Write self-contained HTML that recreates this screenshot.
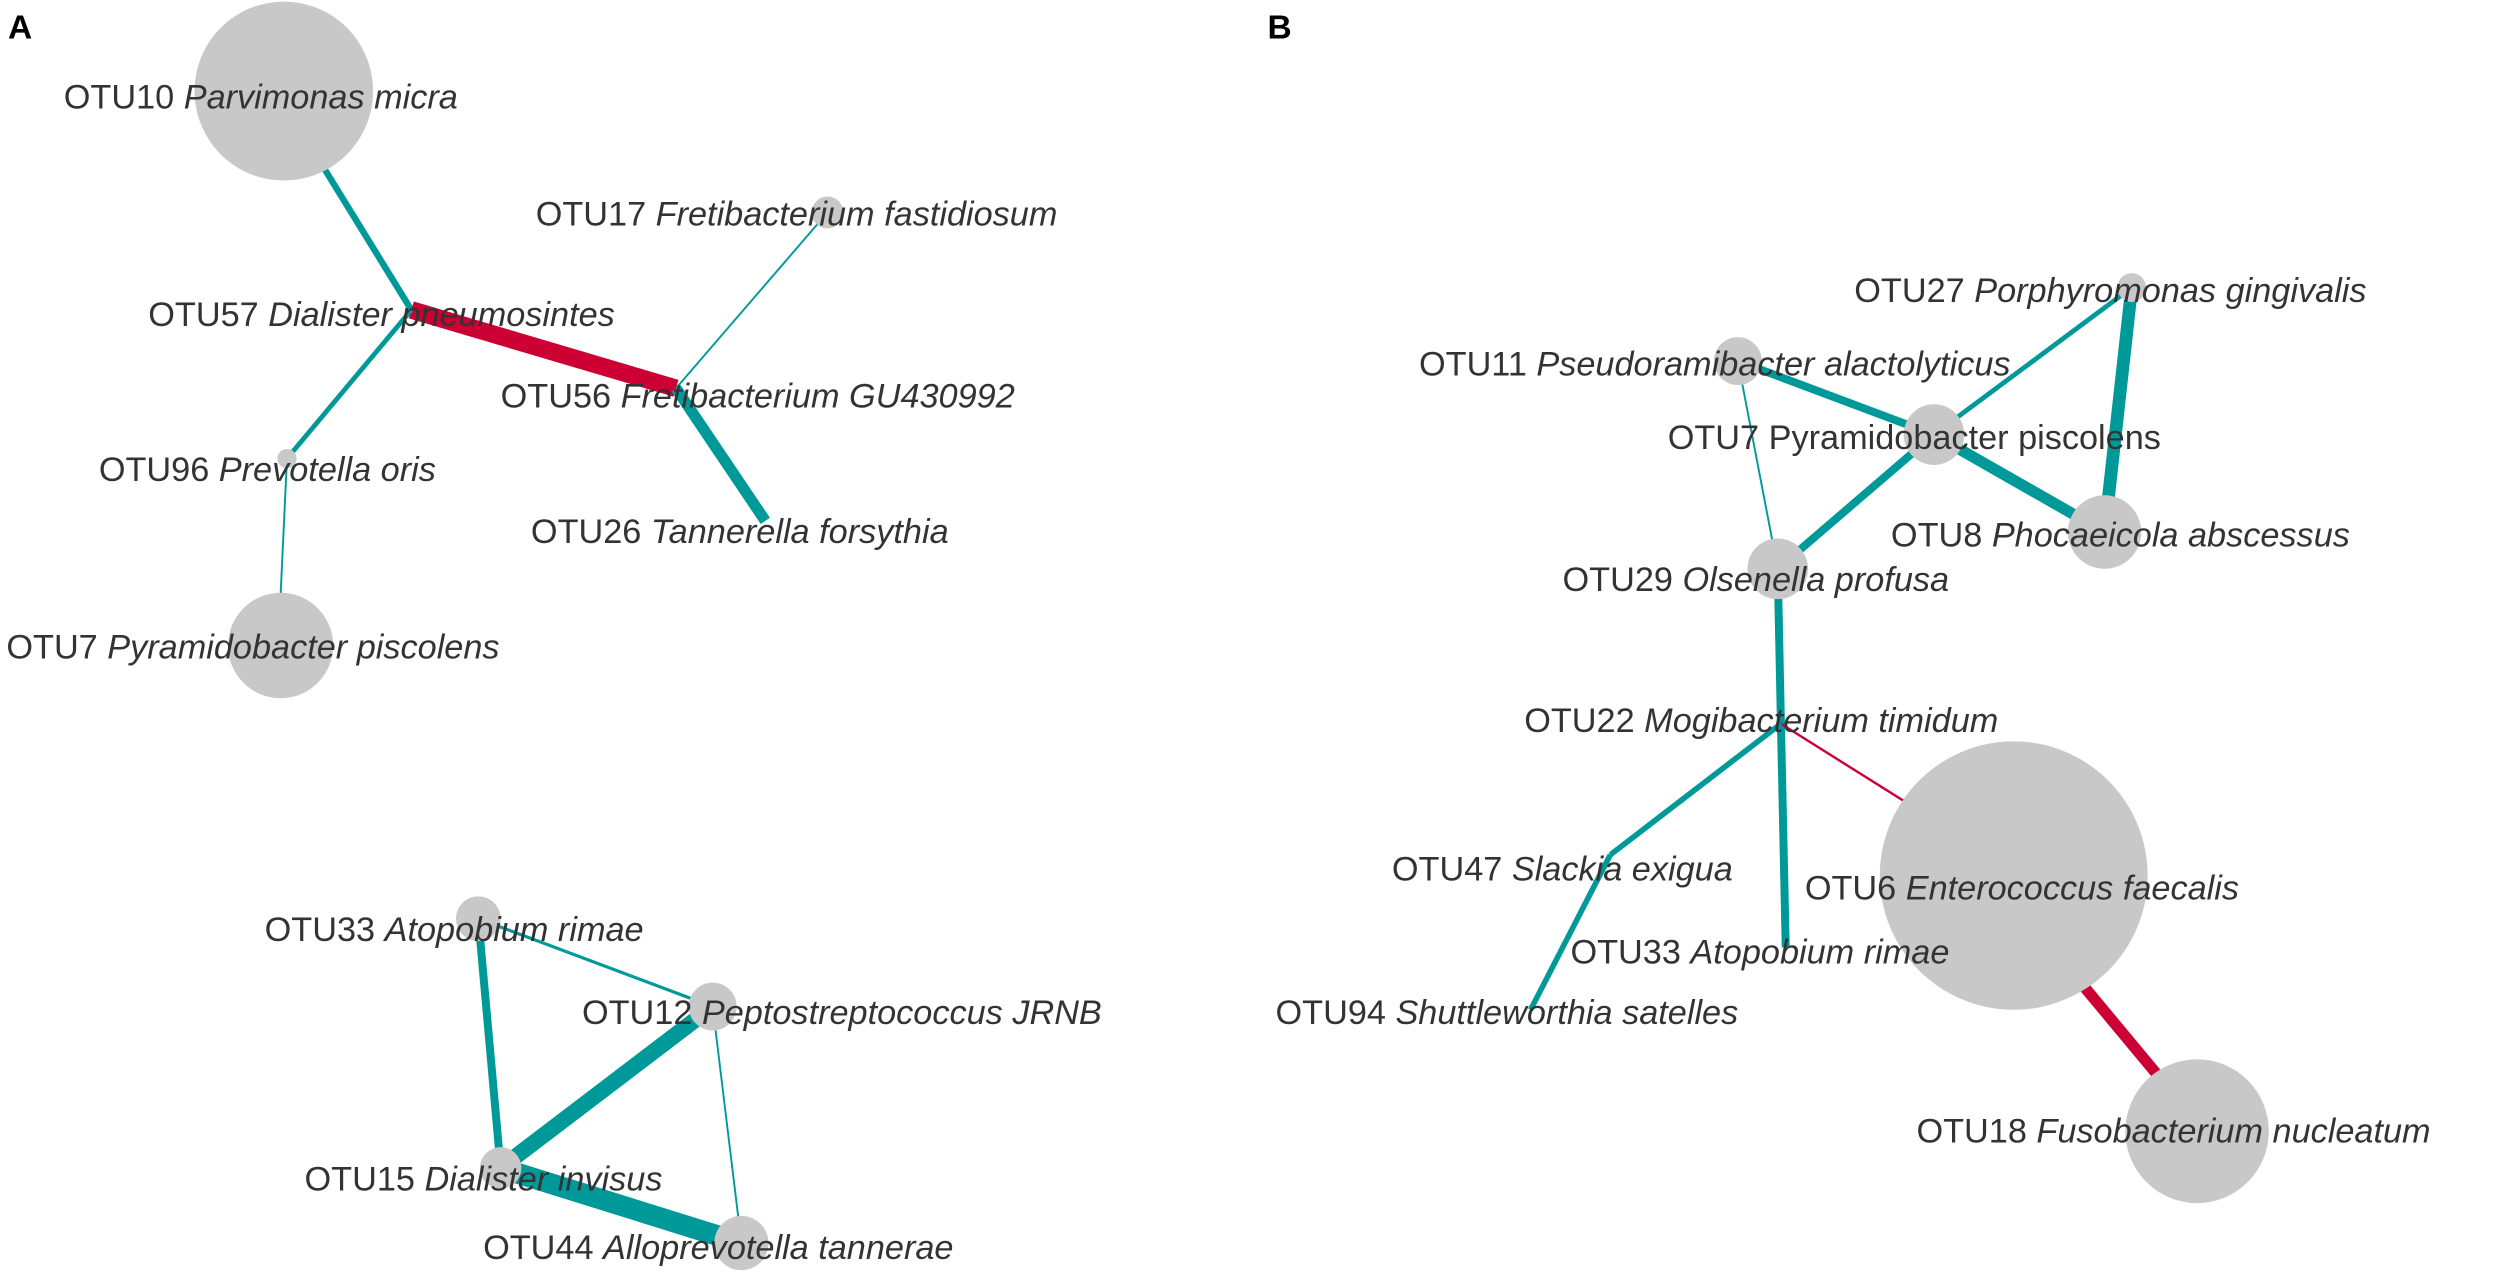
<!DOCTYPE html>
<html><head><meta charset="utf-8"><style>
html,body{margin:0;padding:0;background:#fff;}
svg{display:block;}
text{font-family:"Liberation Sans",Arial,sans-serif;font-size:21.5px;fill:#333;}
.i{font-style:italic;}
.p{font-weight:bold;font-size:21px;fill:#000;}
</style></head><body>
<svg width="2500" height="1275" viewBox="0 0 1568 798" preserveAspectRatio="none" xmlns="http://www.w3.org/2000/svg">
<rect width="1568" height="798" fill="#fff"/>
<g stroke-linecap="butt">
<!-- Panel A top -->
<line x1="200" y1="100" x2="258" y2="194" stroke="#009999" stroke-width="4"/>
<line x1="258" y1="194" x2="424" y2="243" stroke="#cc0033" stroke-width="11"/>
<line x1="519" y1="133" x2="424" y2="243" stroke="#009999" stroke-width="1.2"/>
<line x1="424" y1="243" x2="480" y2="326" stroke="#009999" stroke-width="7"/>
<line x1="258" y1="194" x2="180" y2="287" stroke="#009999" stroke-width="3"/>
<line x1="180" y1="287" x2="176" y2="372" stroke="#009999" stroke-width="1.2"/>
<!-- Panel A bottom -->
<line x1="300" y1="575" x2="447" y2="630" stroke="#009999" stroke-width="2"/>
<line x1="300" y1="575" x2="314" y2="731" stroke="#009999" stroke-width="5"/>
<line x1="447" y1="630" x2="314" y2="731" stroke="#009999" stroke-width="10"/>
<line x1="447" y1="630" x2="465" y2="778" stroke="#009999" stroke-width="1.2"/>
<line x1="314" y1="731" x2="465" y2="778" stroke="#009999" stroke-width="13"/>
<!-- Panel B -->
<line x1="1337" y1="180" x2="1320" y2="333" stroke="#009999" stroke-width="8"/>
<line x1="1337" y1="180" x2="1213" y2="272" stroke="#009999" stroke-width="3"/>
<line x1="1090" y1="226" x2="1213" y2="272" stroke="#009999" stroke-width="5"/>
<line x1="1213" y1="272" x2="1320" y2="333" stroke="#009999" stroke-width="7"/>
<line x1="1090" y1="226" x2="1115" y2="356" stroke="#009999" stroke-width="1.2"/>
<line x1="1213" y1="272" x2="1115" y2="356" stroke="#009999" stroke-width="5"/>
<line x1="1115" y1="356" x2="1117" y2="453" stroke="#009999" stroke-width="5"/>
<line x1="1117" y1="453" x2="1120" y2="593" stroke="#009999" stroke-width="5"/>
<line x1="1117" y1="453" x2="1200" y2="505" stroke="#cc0033" stroke-width="1.5"/>
<line x1="1117" y1="453" x2="1010" y2="535" stroke="#009999" stroke-width="3.5"/>
<line x1="1010" y1="535" x2="960" y2="632" stroke="#009999" stroke-width="3.5"/>
<line x1="1305" y1="615" x2="1355" y2="675" stroke="#cc0033" stroke-width="7"/>
</g>
<g fill="#c8c8c8">
<circle cx="178" cy="57" r="56"/>
<circle cx="519" cy="133" r="10"/>
<circle cx="180" cy="287" r="6"/>
<circle cx="176" cy="404" r="33"/>
<circle cx="300" cy="575" r="14"/>
<circle cx="447" cy="630" r="15"/>
<circle cx="314" cy="731" r="13"/>
<circle cx="465" cy="778" r="17"/>
<circle cx="1337" cy="180" r="9"/>
<circle cx="1090" cy="226" r="15"/>
<circle cx="1213" cy="272" r="19"/>
<circle cx="1320" cy="333" r="23"/>
<circle cx="1115" cy="356" r="19"/>
<circle cx="1263" cy="548" r="84"/>
<circle cx="1378" cy="708" r="45"/>
</g>
<text class="p" x="5" y="24">A</text>
<text class="p" x="795" y="24">B</text>
<text x="40" y="68">OTU10 <tspan class="i">Parvimonas micra</tspan></text>
<text x="336" y="141">OTU17 <tspan class="i">Fretibacterium fastidiosum</tspan></text>
<text x="93" y="204">OTU57 <tspan class="i">Dialister pneumosintes</tspan></text>
<text x="314" y="255">OTU56 <tspan class="i">Fretibacterium GU430992</tspan></text>
<text x="62" y="301">OTU96 <tspan class="i">Prevotella oris</tspan></text>
<text x="333" y="340">OTU26 <tspan class="i">Tannerella forsythia</tspan></text>
<text x="4" y="412">OTU7 <tspan class="i">Pyramidobacter piscolens</tspan></text>
<text x="166" y="589">OTU33 <tspan class="i">Atopobium rimae</tspan></text>
<text x="365" y="641">OTU12 <tspan class="i">Peptostreptococcus JRNB</tspan></text>
<text x="191" y="745">OTU15 <tspan class="i">Dialister invisus</tspan></text>
<text x="303" y="788">OTU44 <tspan class="i">Alloprevotella tannerae</tspan></text>
<text x="1163" y="189">OTU27 <tspan class="i">Porphyromonas gingivalis</tspan></text>
<text x="890" y="235">OTU11 <tspan class="i">Pseudoramibacter alactolyticus</tspan></text>
<text x="1046" y="281">OTU7 Pyramidobacter piscolens</text>
<text x="1186" y="342">OTU8 <tspan class="i">Phocaeicola abscessus</tspan></text>
<text x="980" y="370">OTU29 <tspan class="i">Olsenella profusa</tspan></text>
<text x="956" y="458">OTU22 <tspan class="i">Mogibacterium timidum</tspan></text>
<text x="873" y="551">OTU47 <tspan class="i">Slackia exigua</tspan></text>
<text x="1132" y="563">OTU6 <tspan class="i">Enterococcus faecalis</tspan></text>
<text x="985" y="603">OTU33 <tspan class="i">Atopobium rimae</tspan></text>
<text x="800" y="641">OTU94 <tspan class="i">Shuttleworthia satelles</tspan></text>
<text x="1202" y="715">OTU18 <tspan class="i">Fusobacterium nucleatum</tspan></text>
</svg>
</body></html>
